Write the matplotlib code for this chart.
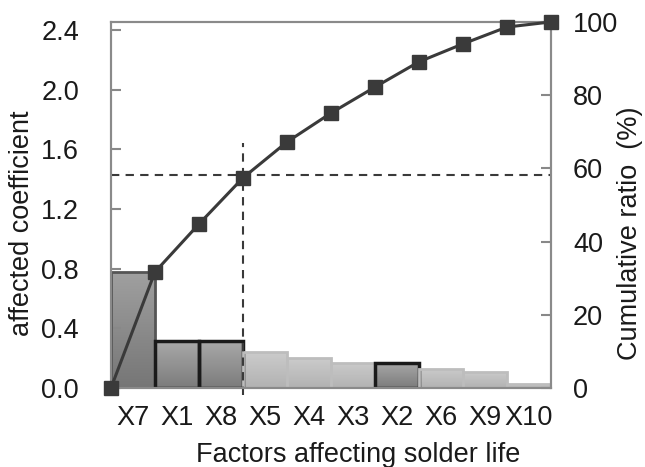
import numpy as np
import matplotlib
matplotlib.use("Agg")
import matplotlib.pyplot as plt
from matplotlib.colors import LinearSegmentedColormap

plt.rcParams["font.family"] = ["Liberation Sans", "DejaVu Sans"]

# data
factors = ["X7", "X1", "X8", "X5", "X4", "X3", "X2", "X6", "X9", "X10"]
coefficient = [0.78, 0.315, 0.315, 0.24, 0.20, 0.17, 0.17, 0.13, 0.11, 0.03]
cum_ratio = [0, 31.7, 44.8, 57.4, 67.2, 75.1, 82.2, 89.1, 94.0, 98.6, 100]
ref_ratio = 58.2      # horizontal dashed line
ref_factor = 3        # vertical dashed line (after X8)

# style groups: dark bars with black edge, dark bar with grey edge, light bars
dark_black = ["X1", "X8", "X2"]
dark_grey = ["X7"]

FS = 19.5

fig = plt.figure(figsize=(6.45, 4.67), dpi=100)
ax = fig.add_axes([0.172, 0.169, 0.682, 0.784])

x = np.arange(len(factors)) + 0.5
bars = ax.bar(x, coefficient, width=1.0, color="none", zorder=2)

for name, b in zip(factors, bars):
    if name in dark_black:
        top, bot, ec, lw = "#a8a8a8", "#7c7c7c", "#1a1a1a", 2.5
    elif name in dark_grey:
        top, bot, ec, lw = "#a0a0a0", "#767676", "#555555", 2.0
    else:
        top, bot, ec, lw = "#cbcbcb", "#b2b2b2", "#bdbdbd", 2.0
    cmap = LinearSegmentedColormap.from_list("g", [bot, top])
    grad = np.linspace(0, 1, 64).reshape(-1, 1)
    x0, w, h = b.get_x(), b.get_width(), b.get_height()
    im = ax.imshow(grad, extent=[x0, x0 + w, 0, h], origin="lower",
                   aspect="auto", cmap=cmap, zorder=1)
    im.set_clip_path(b)
    b.set_edgecolor(ec)
    b.set_linewidth(lw)

ax.set_xlim(0, len(factors))
ax.set_ylim(0, 2.454)
ax.set_yticks([0, 0.4, 0.8, 1.2, 1.6, 2.0, 2.4])
ax.set_yticklabels(["0.0", "0.4", "0.8", "1.2", "1.6", "2.0", "2.4"])
ax.set_xticks(x)
ax.set_xticklabels(factors)
ax.tick_params(axis="y", direction="in", length=7, width=1.5, color="#888888",
               labelsize=FS, pad=23, labelcolor="#1a1a1a")
ax.tick_params(axis="x", length=0, labelsize=FS, pad=12, labelcolor="#1a1a1a")
ax.set_ylabel("affected coefficient", fontsize=FS, labelpad=4,
              color="#1a1a1a", y=0.45)
ax.set_xlabel("Factors affecting solder life", fontsize=FS, labelpad=8,
              color="#1a1a1a", x=0.561)

ax2 = ax.twinx()
ax2.plot(np.arange(len(cum_ratio)), cum_ratio, color="#3a3a3a", lw=2.2,
         marker="s", markersize=10, clip_on=False, zorder=5)
ax2.axhline(ref_ratio, color="#3a3a3a", lw=1.5, ls=(0, (4, 3)))
ax2.plot([ref_factor, ref_factor], [-2, 67], color="#3a3a3a", lw=1.5,
         ls=(0, (4, 3)), clip_on=False)
ax2.set_ylim(0, 100)
ax2.set_yticks([0, 20, 40, 60, 80, 100])
ax2.tick_params(axis="y", direction="in", length=7, width=1.5, color="#888888",
                labelsize=FS, pad=16, labelcolor="#1a1a1a")
ax2.set_ylabel("Cumulative ratio  (%)", fontsize=FS, labelpad=-1,
               color="#1a1a1a", y=0.423)

for a in (ax, ax2):
    for s in a.spines.values():
        s.set_color("#8a8a8a")
        s.set_linewidth(1.5)

fig.savefig("out.png", dpi=100)
